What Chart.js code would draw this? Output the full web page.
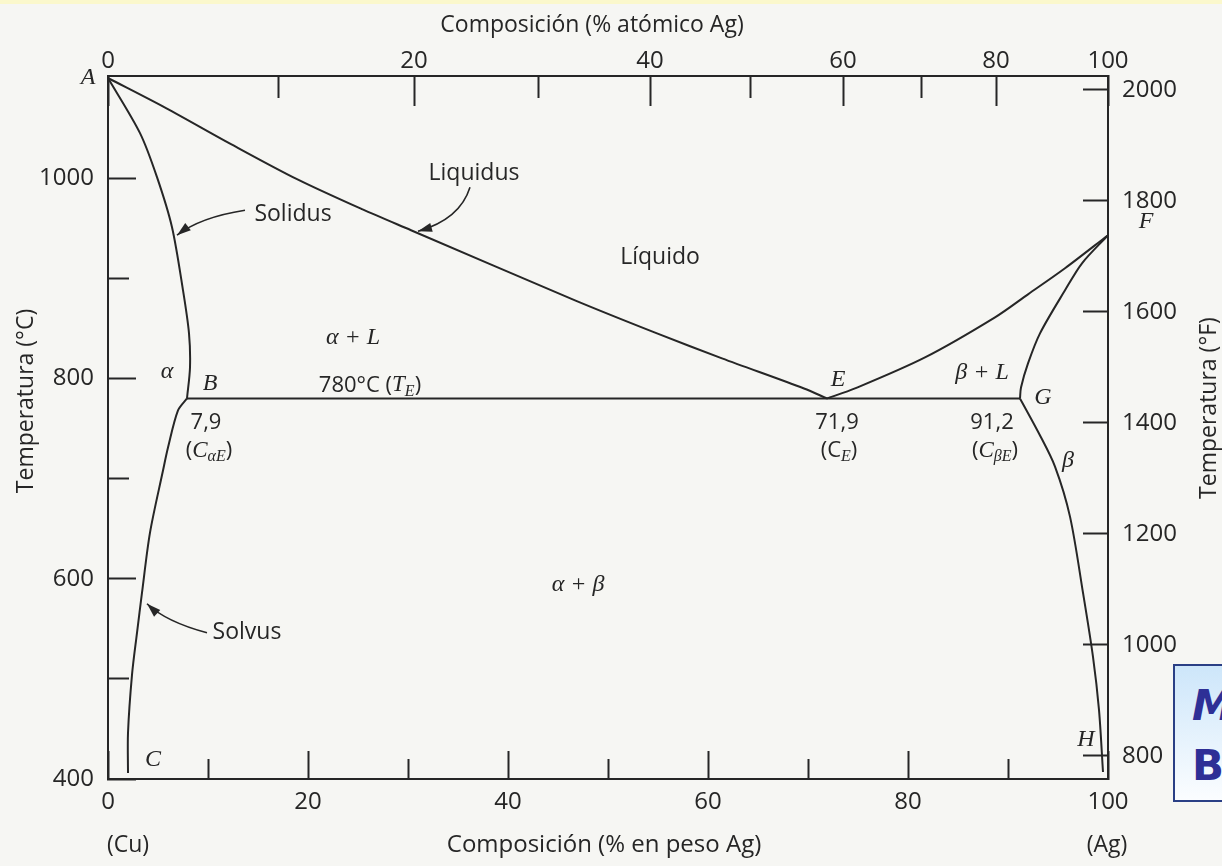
<!DOCTYPE html>
<html>
<head>
  <meta charset="UTF-8">
  <title>Diagrama de fases Cu-Ag</title>
  <script src="https://cdn.jsdelivr.net/npm/chart.js"></script>
  <style>
    body { margin: 0; background: #f6f6f3; overflow: hidden; }
    .strip { position: absolute; left: 0; top: 0; width: 1222px; height: 4px; background: #fbf8cc; }
    #chart { position: absolute; left: 0; top: 0; }
    .tag {
      position: absolute; left: 1173px; top: 664px; width: 80px; height: 134px;
      border: 2px solid #2a3f85; background: linear-gradient(#cde6fa, #fbfdff);
    }
    .tag span { position: absolute; left: 17px; font: bold 42px "DejaVu Sans"; line-height: 42px; color: #2e2f96; }
  </style>
</head>
<body>
  <div class="strip"></div>
  <canvas id="chart" width="1222" height="866"></canvas>
  <div class="tag"><span style="top:19px;font-style:italic">M</span><span style="top:79px">B</span></div>
  <script>
    const ink = '#262626';

    // marcas de los ejes
    const wtMajor = [0, 20, 40, 60, 80, 100];
    const wtMinor = [10, 30, 50, 70, 90];
    const atPos = [0, 30.6, 54.2, 73.5, 88.8, 100];      // % en peso donde cae cada % atómico
    const atLabels = ['0', '20', '40', '60', '80', '100'];
    const atMinorPos = [17.0, 43.0, 64.2, 81.3];
    const tcMajor = [400, 600, 800, 1000];
    const tcMinor = [500, 700, 900];
    const tfTicks = [800, 1000, 1200, 1400, 1600, 1800, 2000];

    // reacción eutéctica
    const tE = 780;
    const cAlphaE = 7.9, cE = 71.9, cBetaE = 91.2;

    // líneas del diagrama: % en peso Ag y temperatura (°C)
    const liqAE_w = [0, 5.8, 12.3, 18.9, 25.4, 30.3, 46.7, 54.9, 61.4, 69.6, cE];
    const liqAE_t = [1100, 1070, 1034, 999, 969, 948, 878, 845, 820, 790, tE];
    const solAB_w = [0, 3.2, 4.9, 6.4, 7.5, 8.1, 8.2, cAlphaE];
    const solAB_t = [1100, 1045, 1001, 951, 888, 845, 811, tE];
    const solvBC_w = [cAlphaE, 7.0, 6.0, 5.5, 4.2, 3.4, 2.9, 2.4, 2.0, 2.0];
    const solvBC_t = [tE, 768, 731, 708, 646, 586, 546, 504, 446, 406];
    const liqEF_w = [cE, 74.7, 81.7, 88.7, 92.0, 95.7, 100];
    const liqEF_t = [tE, 790, 821, 861, 884, 910, 943];
    const solFG_w = [100, 97.4, 95.7, 93.2, 92.0, 91.3, cBetaE];
    const solFG_t = [943, 915, 888, 845, 815, 791, tE];
    const solvGH_w = [cBetaE, 93.1, 94.7, 96.2, 97.5, 98.5, 99.1, 99.5];
    const solvGH_t = [tE, 745, 712, 662, 586, 522, 469, 407];

    // flechas de los rótulos: inicio, control, punta
    const arrows = [
      [13.7, 968, 9.2, 961, 6.9, 943],
      [36.2, 991, 35.2, 959, 31.0, 947],
      [9.9, 546, 5.8, 557, 3.9, 575]
    ];

    const sans = '"Open Sans", sans-serif';
    const serif = '"Liberation Serif", serif';

    function curve(ws, ts, tension) {
      return {
        data: ws.map((w, i) => ({ x: w, y: ts[i] })),
        showLine: true, borderColor: ink, borderWidth: 2,
        pointRadius: 0, tension: tension, fill: false
      };
    }

    function tickScale(pos, axis, values, len, extra) {
      return Object.assign({
        type: 'linear', position: pos, axis: axis,
        afterBuildTicks: s => { s.ticks = values.map(v => ({ value: v })); },
        grid: { drawOnChartArea: false, tickLength: len, tickWidth: 2, tickColor: ink },
        border: { display: false },
        ticks: { display: false, autoSkip: false, maxRotation: 0 }
      }, extra);
    }

    function labelTicks(pad, cb) {
      return { display: true, autoSkip: false, maxRotation: 0, padding: pad,
               color: ink, font: { family: 'Open Sans', size: 24 }, callback: cb };
    }

    const frame = { display: true, color: ink, width: 2 };

    function rich(ctx, parts, x, y) {
      let w = 0;
      parts.forEach(p => { ctx.font = p[1]; w += ctx.measureText(p[0]).width; });
      let cx = x - w / 2;
      ctx.textAlign = 'left';
      parts.forEach(p => {
        ctx.font = p[1];
        ctx.fillText(p[0], cx, y + (p[2] || 0));
        cx += ctx.measureText(p[0]).width;
      });
      ctx.textAlign = 'center';
    }

    const comma = v => v.toFixed(1).replace('.', ',');

    const notesPlugin = {
      id: 'notes',
      afterDatasetsDraw(chart) {
        const { ctx, scales: { x, y } } = chart;
        const px = w => x.getPixelForValue(w);
        const py = t => y.getPixelForValue(t);
        ctx.save();
        ctx.fillStyle = ink;
        ctx.strokeStyle = ink;
        ctx.textAlign = 'center';
        ctx.textBaseline = 'middle';

        // flechas
        arrows.forEach(a => {
          const x0 = px(a[0]), y0 = py(a[1]), cx = px(a[2]), cy = py(a[3]), x1 = px(a[4]), y1 = py(a[5]);
          ctx.lineWidth = 1.6;
          ctx.beginPath();
          ctx.moveTo(x0, y0);
          ctx.quadraticCurveTo(cx, cy, x1, y1);
          ctx.stroke();
          const ang = Math.atan2(y1 - cy, x1 - cx);
          const c = Math.cos(ang), s = Math.sin(ang);
          ctx.beginPath();
          ctx.moveTo(x1, y1);
          ctx.lineTo(x1 - 14 * c + 4.5 * s, y1 - 14 * s - 4.5 * c);
          ctx.lineTo(x1 - 14 * c - 4.5 * s, y1 - 14 * s + 4.5 * c);
          ctx.closePath();
          ctx.fill();
        });

        // rótulos de texto normal
        ctx.font = '23px ' + sans;
        ctx.fillText('Solidus', px(18.5), py(964));
        ctx.fillText('Liquidus', px(36.6), py(1005));
        ctx.fillText('Líquido', px(55.2), py(921));
        ctx.fillText('Solvus', px(13.9), py(546));

        // fases y puntos
        ctx.font = 'italic 24px ' + serif;
        ctx.fillText('α + L', px(24.5), py(841));
        ctx.fillText('α', px(5.9), py(807));
        ctx.fillText('B', px(10.2), py(795));
        ctx.fillText('E', px(cE + 1.1), py(799));
        ctx.fillText('β + L', px(87.4), py(806));
        ctx.fillText('G', px(cBetaE + 2.3), py(781));
        ctx.fillText('β', px(96.0), py(718));
        ctx.fillText('α + β', px(47.0), py(594));
        ctx.fillText('C', px(4.5), py(419));
        ctx.fillText('H', px(97.8), py(439));
        ctx.fillText('F', px(103.8), py(957));
        ctx.fillText('A', px(-2.0), py(1100));

        // temperatura y composiciones eutécticas
        const reg = '22px ' + sans, it = 'italic 23px ' + serif, sub = 'italic 16px ' + serif;
        rich(ctx, [[tE + '°C (', reg], ['T', it], ['E', sub, 6], [')', reg]], px(26.2), py(tE + 13));
        ctx.font = reg;
        ctx.fillText(comma(cAlphaE), px(cAlphaE + 1.9), py(tE - 24));
        ctx.fillText(comma(cE), px(cE + 1.0), py(tE - 24));
        ctx.fillText(comma(cBetaE), px(cBetaE - 2.8), py(tE - 24));
        rich(ctx, [['(', reg], ['C', it], ['αE', sub, 6], [')', reg]], px(cAlphaE + 2.2), py(tE - 52));
        rich(ctx, [['(C', reg], ['E', sub, 6], [')', reg]], px(cE + 1.2), py(tE - 52));
        rich(ctx, [['(', reg], ['C', it], ['βE', sub, 6], [')', reg]], px(cBetaE - 2.5), py(tE - 52));

        // títulos de los ejes
        ctx.textBaseline = 'alphabetic';
        ctx.font = '23px ' + sans;
        ctx.fillText('Composición (% atómico Ag)', px(48.4), 32);
        ctx.font = '24px ' + sans;
        ctx.fillText('Composición (% en peso Ag)', px(49.6), 852);
        ctx.font = '23px ' + sans;
        ctx.fillText('(Cu)', px(2.0), 852);
        ctx.fillText('(Ag)', px(99.9), 852);
        [['Temperatura (°C)', 33, 401], ['Temperatura (°F)', 1216, 408]].forEach(t => {
          ctx.save();
          ctx.translate(t[1], t[2]);
          ctx.rotate(-Math.PI / 2);
          ctx.fillText(t[0], 0, 0);
          ctx.restore();
        });
        ctx.restore();
      }
    };

    new Chart(document.getElementById('chart'), {
      type: 'scatter',
      data: {
        datasets: [
          curve(liqAE_w, liqAE_t, 0.3),
          curve(solAB_w, solAB_t, 0.3),
          curve(solvBC_w, solvBC_t, 0.3),
          curve([cAlphaE, cBetaE], [tE, tE], 0),
          curve(liqEF_w, liqEF_t, 0.3),
          curve(solFG_w, solFG_t, 0.3),
          curve(solvGH_w, solvGH_t, 0.3)
        ]
      },
      options: {
        responsive: false,
        animation: false,
        layout: { padding: 0 },
        plugins: { legend: { display: false }, tooltip: { enabled: false } },
        scales: {
          x: tickScale('bottom', 'x', wtMajor, -28, {
            min: 0, max: 100, weight: 1, border: frame,
            ticks: labelTicks(37, v => v),
            afterFit: s => { s.height = 87; }
          }),
          xMinor: tickScale('bottom', 'x', wtMinor, -20, {
            min: 0, max: 100, weight: 0, afterFit: s => { s.height = 0; }
          }),
          x2: tickScale('top', 'x', atPos, -30, {
            min: 0, max: 100, weight: 1, border: frame,
            ticks: labelTicks(30, (v, i) => atLabels[i]),
            afterFit: s => { s.height = 76; }
          }),
          x2Minor: tickScale('top', 'x', atMinorPos, -22, {
            min: 0, max: 100, weight: 0, afterFit: s => { s.height = 0; }
          }),
          y: tickScale('left', 'y', tcMajor, -28, {
            min: 400, max: 1102, weight: 1, border: frame,
            ticks: labelTicks(42, v => v),
            afterFit: s => { s.width = 108; }
          }),
          yMinor: tickScale('left', 'y', tcMinor, -21, {
            min: 400, max: 1102, weight: 0, afterFit: s => { s.width = 0; }
          }),
          y2: tickScale('right', 'y', tfTicks, -25, {
            min: 758, max: 2025, weight: 1, border: frame,
            ticks: labelTicks(39, v => v),
            afterFit: s => { s.width = 114; }
          })
        }
      },
      plugins: [notesPlugin]
    });
  </script>
</body>
</html>
